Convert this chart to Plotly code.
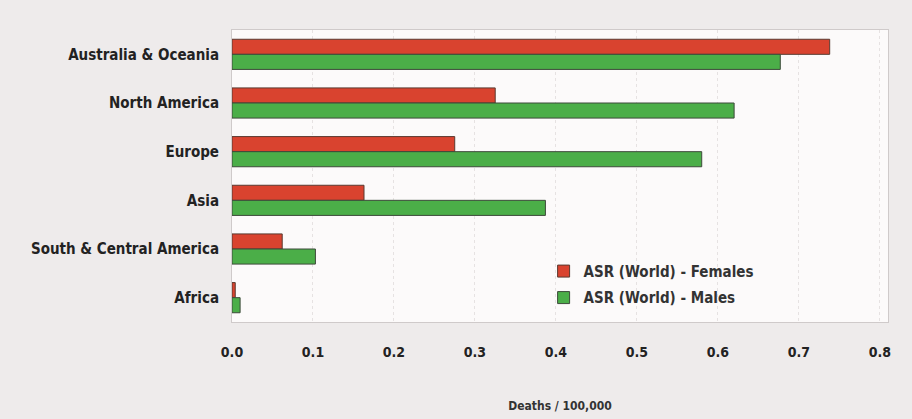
import plotly.graph_objects as go

regions = ["Australia & Oceania", "North America", "Europe", "Asia",
           "South & Central America", "Africa"]
females = [0.738, 0.325, 0.275, 0.163, 0.062, 0.004]
males = [0.677, 0.62, 0.58, 0.387, 0.103, 0.01]
xticks = [0.0, 0.1, 0.2, 0.3, 0.4, 0.5, 0.6, 0.7, 0.8]
xticklabels = ["0.0", "0.1", "0.2", "0.3", "0.4", "0.5", "0.6", "0.7", "0.8"]

FONT = "DejaVu Sans Condensed, Liberation Sans Narrow, sans-serif"

fig = go.Figure()
fig.add_trace(go.Bar(y=regions, x=females, orientation="h",
                     name="ASR (World) - Females", legendgroup="f",
                     marker=dict(color="#d9432f", line=dict(color="#5a3a30", width=1))))
fig.add_trace(go.Bar(y=regions, x=males, orientation="h",
                     name="ASR (World) - Males", legendgroup="m",
                     marker=dict(color="#4bae48", line=dict(color="#3d4a3a", width=1))))

fig.update_layout(
    width=912, height=419,
    barmode="group", bargap=0.38, bargroupgap=0.0,
    paper_bgcolor="#eeebeb", plot_bgcolor="#fcfafa",
    margin=dict(l=232, r=24, t=30, b=97),
    font=dict(family=FONT, size=13, color="#2b2b2b", weight="bold"),
    showlegend=True,
    legend=dict(x=0.475, y=0.23, xanchor="left", yanchor="top",
                bgcolor="rgba(0,0,0,0)", font=dict(size=15, color="#333", weight="bold"),
                itemwidth=30, tracegroupgap=4),
    xaxis=dict(range=[0, 0.81], tickvals=xticks, ticktext=xticklabels,
               showgrid=True, gridcolor="#e6e2e2", griddash="dot",
               zeroline=False, showline=True, linecolor="#cfcaca", mirror=True,
               ticks="", ticklabelstandoff=17, automargin=False,
               tickfont=dict(size=14, color="#222", weight="bold"),
               title=dict(text="Deaths / 100,000", font=dict(size=12, color="#333", weight="bold"),
                          standoff=42)),
    yaxis=dict(autorange="reversed", showgrid=False, showline=True, linecolor="#cfcaca",
               mirror=True, ticks="", ticklabelstandoff=9, automargin=False,
               tickfont=dict(size=15, color="#222", weight="bold")),
)

fig.write_html("out.html", config={"displayModeBar": False},
               post_script="document.body.style.margin='0';")
